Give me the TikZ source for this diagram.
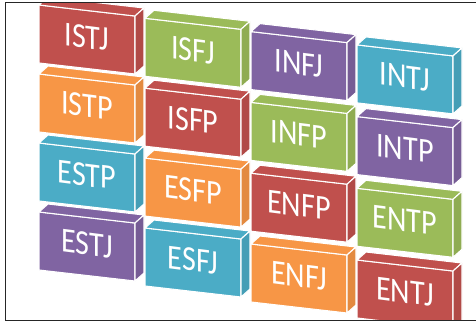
\documentclass[tikz,border=0pt]{standalone}
\usepackage{fontspec}
\setmainfont{Carlito}
\definecolor{mbtired}{RGB}{192,80,77}
\definecolor{mbtigreen}{RGB}{155,187,89}
\definecolor{mbtipurple}{RGB}{128,100,162}
\definecolor{mbticyan}{RGB}{75,172,198}
\definecolor{mbtiorange}{RGB}{247,150,70}

\begin{document}
\begin{tikzpicture}[x=1pt,y=-1pt,
    face/.style={draw=white,line width=1.1pt,line join=round},
    typelabel/.style={text=white,inner sep=0pt,font=\fontsize{35}{35}\selectfont,
                      xscale=0.86,yslant=-0.11}]
    \useasboundingbox (0,0) rectangle (476,324);
    % Blocks
    \begin{scope}
      \clip (5,2) rectangle (476,320);
      \foreach \name/\c/\r/\clr in {
          ISTJ/0/0/mbtired,    ISFJ/1/0/mbtigreen,  INFJ/2/0/mbtipurple, INTJ/3/0/mbticyan,
          ISTP/0/1/mbtiorange, ISFP/1/1/mbtired,    INFP/2/1/mbtigreen,  INTP/3/1/mbtipurple,
          ESTP/0/2/mbticyan,   ESFP/1/2/mbtiorange, ENFP/2/2/mbtired,    ENTP/3/2/mbtigreen,
          ESTJ/0/3/mbtipurple, ESFJ/1/3/mbticyan,   ENFJ/2/3/mbtiorange, ENTJ/3/3/mbtired} {
        \pgfmathsetmacro\xl{39+106*\c}
        \pgfmathsetmacro\xr{\xl+96}
        \pgfmathsetmacro\yt{5+13.3*\c+(69+0.9*\c)*\r}
        \pgfmathsetmacro\ytr{\yt+11}
        % front, top, side
        \draw[face,fill=\clr] (\xl,\yt) -- (\xr,\ytr) -- (\xr,\ytr+58) -- (\xl,\yt+58) -- cycle;
        \draw[face,fill=\clr] (\xl,\yt) -- (\xl+9,\yt-8) -- (\xr+9,\ytr-8) -- (\xr,\ytr) -- cycle;
        \draw[face,fill=\clr!92!black] (\xr,\ytr) -- (\xr+9,\ytr-8) -- (\xr+9,\ytr+50) -- (\xr,\ytr+58) -- cycle;
        \node[typelabel] (\name) at (\xl+48,\yt+32) {\name};
      }
    \end{scope}
    % Frame
    \draw[black!85,line width=0.9pt] (476,2) -- (5,2) -- (5,320) -- (476,320);
\end{tikzpicture}
\end{document}
